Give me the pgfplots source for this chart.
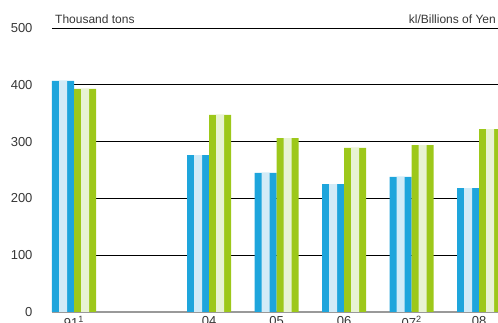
\documentclass[border=0pt]{standalone}
\usepackage{pgfplots}
\pgfplotsset{compat=1.18}
\usepackage{fontspec}
\setmainfont{Liberation Sans}
\definecolor{cblue}{RGB}{30,165,220}
\definecolor{cbluelt}{RGB}{210,235,247}
\definecolor{cgreen}{RGB}{157,200,26}
\definecolor{cgreenlt}{RGB}{232,243,212}
\definecolor{txt}{RGB}{55,55,55}
\begin{document}
\begin{tikzpicture}
\begin{axis}[
  scale only axis,
  width=446bp, height=284bp,
  xmin=-0.326, xmax=6.28,
  ymin=0, ymax=500,
  axis line style={draw=none},
  major tick length=0pt,
  ytick={100,200,300,400,500},
  extra y ticks={0},
  extra y tick style={grid style={draw=gray!80, line width=1.6bp}},
  ymajorgrids,
  grid style={draw=black, line width=0.8bp},
  xtick={0,2,3,4,5,6},
  xticklabels={91\textsuperscript{1},04,05,06,07\textsuperscript{2},08},
  tick label style={font=\fontsize{13bp}{15bp}\selectfont, text=txt},
  /pgf/number format/assume math mode=true,
  yticklabel style={anchor=east, xshift=-16bp},
  xticklabel style={anchor=north, yshift=-1bp},
  clip mode=individual,
]
% blue series: outer bar and light centre stripe
\addplot[ybar, bar width=0.326, bar shift=-0.163, fill=cblue, draw=none]
  coordinates {(0,407) (2,276) (3,245) (4,225) (5,238) (6,218)};
\addplot[ybar, bar width=0.1185, bar shift=-0.163, fill=cbluelt, draw=none]
  coordinates {(0,407) (2,276) (3,245) (4,225) (5,238) (6,218)};
% green series
\addplot[ybar, bar width=0.326, bar shift=0.163, fill=cgreen, draw=none]
  coordinates {(0,393) (2,347) (3,306) (4,289) (5,294) (6,322)};
\addplot[ybar, bar width=0.1185, bar shift=0.163, fill=cgreenlt, draw=none]
  coordinates {(0,393) (2,347) (3,306) (4,289) (5,294) (6,322)};
\node[anchor=base west, text=txt, font=\fontsize{12bp}{14bp}\selectfont, inner sep=0pt]
  at (rel axis cs:0,1) [xshift=3bp, yshift=4.5bp] {Thousand tons};
\node[anchor=base east, text=txt, font=\fontsize{12bp}{14bp}\selectfont, inner sep=0pt]
  at (rel axis cs:1,1) [xshift=-2bp, yshift=4.5bp] {kl/Billions of Yen};
\end{axis}
\pgfresetboundingbox
\path[use as bounding box] (-52bp,-11bp) rectangle (446bp,312bp);
\end{tikzpicture}
\end{document}
